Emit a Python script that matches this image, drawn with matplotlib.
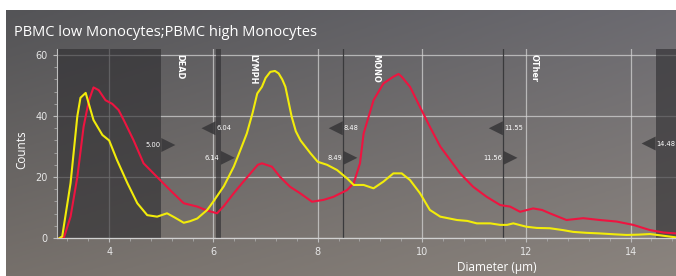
import numpy as np
import matplotlib
matplotlib.use("Agg")
import matplotlib.pyplot as plt
from matplotlib.ticker import MultipleLocator

title = "PBMC low Monocytes;PBMC high Monocytes"

low_x = [3.05, 3.10, 3.26, 3.39, 3.45, 3.55, 3.61, 3.70, 3.87, 4.00, 4.15, 4.35, 4.54, 4.73,
         4.92, 5.11, 5.25, 5.43, 5.55, 5.69, 5.88, 6.00, 6.20, 6.39, 6.52, 6.64, 6.75, 6.84, 6.93,
         7.00, 7.09, 7.18, 7.25, 7.32, 7.38, 7.50, 7.58, 7.67, 7.86, 8.00, 8.18, 8.37, 8.56, 8.69,
         8.81, 8.88, 9.07, 9.26, 9.45, 9.61, 9.77, 9.96, 10.15, 10.35, 10.67, 10.87, 11.05, 11.31,
         11.50, 11.63, 11.75, 12.00, 12.20, 12.45, 12.70, 12.90, 13.15, 13.41, 13.70, 13.92, 14.15,
         14.37, 14.60, 14.87]
low_y = [0.0, 0.5, 18.0, 40.0, 46.0, 47.6, 44.0, 38.7, 33.8, 32.0, 25.6, 18.0, 11.4, 7.5,
         7.0, 8.1, 6.8, 5.0, 5.5, 6.4, 9.2, 12.0, 17.0, 23.4, 29.0, 34.3, 41.0, 47.4, 49.6,
         52.5, 54.5, 54.8, 54.0, 52.0, 49.6, 39.8, 35.0, 32.0, 27.8, 25.0, 24.0, 22.3, 19.6, 17.4,
         17.4, 17.4, 16.3, 18.5, 21.2, 21.2, 19.0, 14.7, 9.2, 7.0, 5.9, 5.6, 4.8, 4.8,
         4.3, 4.3, 4.8, 3.7, 3.3, 3.2, 2.6, 2.0, 1.7, 1.5, 1.2, 1.0, 1.1,
         1.3, 0.8, 0.2]

high_x = [3.05, 3.13, 3.26, 3.39, 3.51, 3.61, 3.70, 3.80, 3.93, 4.06, 4.18, 4.28, 4.47, 4.66,
          4.92, 5.17, 5.43, 5.69, 5.88, 6.07, 6.20, 6.39, 6.55, 6.71, 6.85, 6.93, 7.12, 7.28,
          7.47, 7.66, 7.89, 8.11, 8.30, 8.56, 8.69, 8.81, 8.88, 9.07, 9.26, 9.45, 9.55, 9.61,
          9.77, 9.96, 10.15, 10.35, 10.54, 10.73, 10.98, 11.24, 11.50, 11.69, 11.88, 12.13, 12.30,
          12.45, 12.77, 13.09, 13.41, 13.73, 14.05, 14.37, 14.63, 14.87]
high_y = [0.0, 0.0, 7.0, 20.0, 36.5, 45.0, 49.4, 48.5, 45.2, 44.0, 42.0, 38.7, 32.0, 24.5,
          20.0, 15.7, 11.4, 10.3, 9.0, 8.1, 10.5, 14.7, 18.0, 21.2, 24.0, 24.5, 23.4, 20.0,
          16.8, 14.7, 11.9, 12.5, 13.5, 15.7, 18.0, 24.5, 34.3, 45.2, 50.7, 52.9, 53.8, 52.9,
          49.6, 43.0, 36.5, 30.0, 25.6, 21.2, 16.8, 13.5, 10.8, 10.3, 8.6, 9.7, 9.2,
          8.1, 5.9, 6.5, 5.9, 5.4, 4.3, 2.6, 1.8, 1.5]

dark_regions = [(3.0, 5.00), (6.04, 6.14), (14.48, 15.0)]
gate_lines = [8.48, 11.55]
gate_names = ["DEAD", "LYMPH", "MONO", "OTher"]
gate_name_x = [5.35, 6.75, 9.12, 12.15]
left_markers = [6.04, 8.48, 11.55, 14.48]
left_labels = ["6.04", "8.48", "11.55", "14.48"]
left_levels = [36.0, 36.0, 36.0, 31.0]
right_markers = [5.00, 6.14, 8.49, 11.56]
right_labels = ["5.00", "6.14", "8.49", "11.56"]
right_levels = [30.5, 26.3, 26.3, 26.3]

W, H = 676, 276
fig = plt.figure(figsize=(W / 100, H / 100), dpi=100)
fig.patch.set_facecolor("white")

# gradient background
bg = fig.add_axes([6 / W, 0, 1 - 6 / W, 1 - 10 / H])
bg.set_axis_off()
tl = np.array([0x54, 0x54, 0x57]) / 255
tr = np.array([0x6c, 0x6b, 0x71]) / 255
bl = np.array([0x76, 0x70, 0x6b]) / 255
br = np.array([0x8b, 0x84, 0x7e]) / 255
u = np.linspace(0, 1, 200)[None, :, None]
v = np.linspace(0, 1, 100)[:, None, None]
img = (1 - v) * ((1 - u) * tl + u * tr) + v * ((1 - u) * bl + u * br)
bg.imshow(img, aspect="auto", extent=[0, 1, 0, 1], origin="upper")
bg.set_xlim(0, 1)
bg.set_ylim(0, 1)

fig.text(14 / W, 1 - 33 / H, title, color="white", fontsize=10.5,
         family="Open Sans", va="center", ha="left")

ax = fig.add_axes([57 / W, 38 / H, (W - 57) / W, 189 / H])
ax.set_facecolor("none")
ax.set_xlim(3.0, 14.87)
ax.set_ylim(0, 62)

for a, b in dark_regions:
    ax.axvspan(a, b, color="#2e2d30", alpha=0.62, lw=0, zorder=1)
for g in gate_lines:
    ax.axvline(g, color="#3a3a3c", lw=0.9, zorder=1.5)

ax.grid(True, which="major", color="#d8d8d8", alpha=0.7, lw=0.9, zorder=1.2)
ax.set_axisbelow(True)

ax.plot(low_x, low_y, color="#f2ec0a", lw=1.5, zorder=4)
ax.plot(high_x, high_y, color="#ee1440", lw=1.5, zorder=3)

# gate markers
tri_w = 0.27
tri_h = 2.3
def tri(xb, yc, direction):
    xs = [xb, xb, xb + direction * tri_w]
    ys = [yc - tri_h, yc + tri_h, yc]
    ax.fill(xs, ys, color="#3a393b", alpha=0.9, lw=0, zorder=5)

lab_kw = dict(color="white", fontsize=5.3, va="center", zorder=6,
              family="DejaVu Sans", stretch="condensed")
for xv, lab, yl in zip(left_markers, left_labels, left_levels):
    tri(xv, yl, -1)
    ax.text(xv + 0.02, yl, lab, ha="left", **lab_kw)
for xv, lab, yl in zip(right_markers, right_labels, right_levels):
    tri(xv, yl, +1)
    ax.text(xv - 0.02, yl, lab, ha="right", **lab_kw)

for name, xv in zip(gate_names, gate_name_x):
    ax.text(xv, 60.3, name, color="white", fontsize=6.5, fontweight="bold",
            rotation=270, ha="center", va="top", zorder=6,
            family="DejaVu Sans", stretch="condensed")

for s in ["top", "right"]:
    ax.spines[s].set_visible(False)
ax.spines["left"].set_color("#bdbdbd")
ax.spines["bottom"].set_color("#d0d0d0")
ax.spines["left"].set_linewidth(0.8)
ax.spines["bottom"].set_linewidth(0.9)

ax.set_xticks([4, 6, 8, 10, 12, 14])
ax.set_yticks([0, 20, 40, 60])
ax.xaxis.set_minor_locator(MultipleLocator(0.4))
ax.yaxis.set_minor_locator(MultipleLocator(4))
ax.tick_params(axis="both", which="major", colors="#bdbdbd", labelcolor="#e6e6e6",
               labelsize=7, length=3, width=0.8)
ax.tick_params(axis="both", which="minor", colors="#a8a8a8", length=2, width=0.6)

fig.text(22 / W, 1 - 150 / H, "Counts", color="white", fontsize=8.5, rotation=90,
         ha="center", va="center", family="Open Sans")
fig.text(497 / W, 1 - 267 / H, "Diameter (\u00b5m)", color="white", fontsize=8.5,
         ha="center", va="center", family="Open Sans")

fig.savefig("out.png", dpi=100, facecolor=fig.get_facecolor())
